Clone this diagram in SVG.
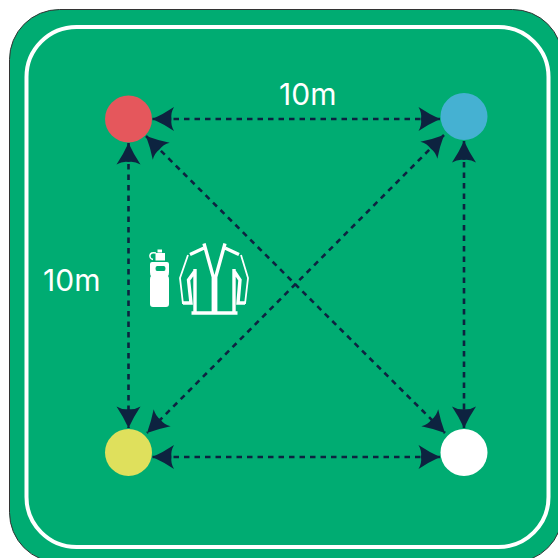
<svg xmlns="http://www.w3.org/2000/svg" width="558" height="558" viewBox="0 0 558 558">
<style>
.c{fill:none;stroke:#0d2340;stroke-width:2.600;stroke-dasharray:5.500 5;marker-start:url(#a);marker-end:url(#a)}
.t{font-family:Inter,"Liberation Sans",sans-serif;font-size:30px;fill:#fff}
.j{fill:none;stroke:#fff;stroke-width:3.400;stroke-linejoin:miter}
.k{fill:none;stroke:#fff;stroke-width:1.800}
</style>
<defs>
<marker id="a" markerUnits="userSpaceOnUse" orient="auto-start-reverse" markerWidth="24" markerHeight="26" viewBox="-23 -13 24 26" refX="0" refY="0">
<path d="M0 0Q-11 -5 -21.500 -12Q-18 -6 -19 0Q-18 6 -21.500 12Q-11 5 0 0Z" fill="#0d2340"/>
</marker>
</defs>
<rect width="558" height="558" fill="#fff"/>
<rect id="field" x="9.500" y="9.500" width="553" height="553" rx="50" fill="#00ac72" stroke="#333" stroke-width="1"/>
<rect id="track" x="26.500" y="27" width="522" height="520" rx="50" fill="none" stroke="#fff" stroke-width="4"/>
<g id="connectors">
<line class="c" x1="152.500" y1="119" x2="440" y2="119"/>
<line class="c" x1="152.500" y1="457" x2="440" y2="457"/>
<line class="c" x1="128.500" y1="143" x2="128.500" y2="428"/>
<line class="c" x1="464" y1="141" x2="464" y2="428"/>
<line class="c" x1="146" y1="136" x2="445" y2="433"/>
<line class="c" x1="444" y1="135" x2="147" y2="433"/>
</g>
<g id="node-red"><circle cx="128.500" cy="119" r="23.500" fill="#e5575c"/></g>
<g id="node-blue"><circle cx="464" cy="116.500" r="23.500" fill="#45b1d2"/></g>
<g id="node-yellow"><circle cx="128.500" cy="452.500" r="23.500" fill="#dfe05c"/></g>
<g id="node-white"><circle cx="464" cy="452.500" r="23.500" fill="#fff"/></g>
<g id="label-top"><text class="t" x="279" y="104.500">10m</text></g>
<g id="label-left"><text class="t" x="43" y="291">10m</text></g>
<g id="bottle">
<rect x="157.500" y="249.500" width="4.500" height="3" fill="#fff"/>
<path d="M156 253C148.500 251 148.500 258.500 153 259.500" fill="none" stroke="#fff" stroke-width="1.500"/>
<path d="M155.500 253h9.500v7.500h-9.500z" fill="#fff"/>
<path fill-rule="evenodd" fill="#fff" d="M154 262h13q2 0 2 2v8q0 3 -1 4q1 1 1 3v25q0 3 -3 3h-13q-3 0 -3 -3v-25q0 -2 1 -3q-1 -1 -1 -4v-8q0 -2 2 -2ZM157 266q-1.500 0 -1.500 2.500t1.500 2.500h7q1.500 0 1.500 -2.500t-1.500 -2.500Z"/>
</g>
<g id="jacket">
<path class="j" d="M204 243.500L213.300 277V313M225 243.500L215.700 277V313M191.500 313H237.500M195 269V313M234 269V313M195 271L188.500 280L191 303H183M234 271L240 280L238 303H245"/>
<path class="j" d="M204 248L190 254.500M225 248L239 254.500"/>
<path class="k" d="M188 255L180 278L183 304M241 255L248 278L245 304"/>
</g>
</svg>
